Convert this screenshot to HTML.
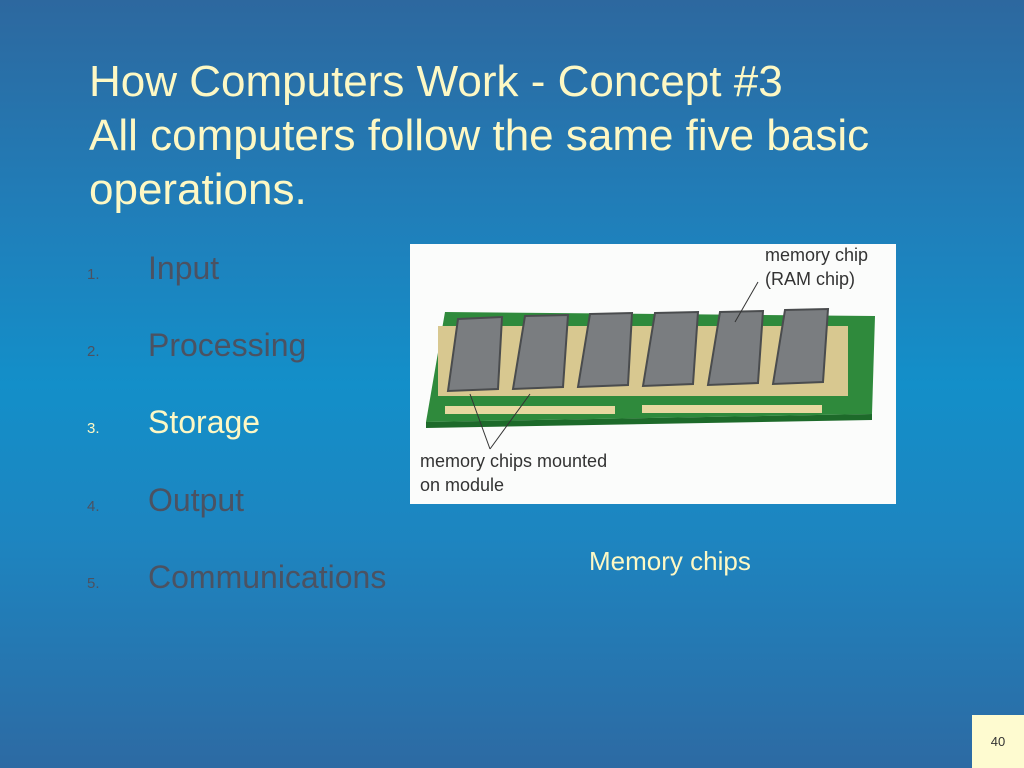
<!DOCTYPE html>
<html><head><style>
body{margin:0;width:1024px;height:768px;overflow:hidden;font-family:"Liberation Sans",Arial,sans-serif;
background:linear-gradient(180deg,#2d689f 0%,#1f80bb 30%,#138fc9 50%,#1d85c0 70%,#2d6aa3 100%);position:relative}
.t{position:absolute;left:89px;top:55px;color:#fdf8c4;font-size:44px;line-height:54px;white-space:nowrap}
.li{position:absolute;left:87px;font-size:32px;color:#4b5262;white-space:nowrap}
.li span{display:inline-block;width:61px;font-size:15px}
.cap{position:absolute;left:589px;top:546px;color:#fdf8c4;font-size:26px}
.pg{position:absolute;left:972px;top:715px;width:52px;height:53px;background:#fefbd0;font-size:13px;text-align:center;line-height:53px;color:#333}
</style></head><body>
<div class="t">How Computers Work - Concept #3<br>All computers follow the same five basic<br>operations.</div>
<div class="li" style="top:250px"><span>1.</span>Input</div>
<div class="li" style="top:327px"><span>2.</span>Processing</div>
<div class="li" style="top:404px;color:#fdf8c4"><span>3.</span>Storage</div>
<div class="li" style="top:482px"><span>4.</span>Output</div>
<div class="li" style="top:559px"><span>5.</span>Communications</div>
<svg style="position:absolute;left:410px;top:244px" width="486" height="260" font-family="Liberation Sans, Arial, sans-serif">
<rect width="486" height="260" fill="#fbfcfb"/>
<polygon points="35,68 465,72 462,170 16,178" fill="#2f8a3c"/>
<polygon points="16,178 462,170 462,176 16,184" fill="#1d6a2a"/>
<g fill="#e8d8a0">
<rect x="35" y="162" width="170" height="8"/><rect x="232" y="161" width="180" height="8"/>
</g>
<rect x="28" y="82" width="410" height="70" fill="#d8c890"/>
<g fill="#7a7d80" stroke="#4a4c4e" stroke-width="2">
<polygon points="48,75 92,73 88,145 38,147"/>
<polygon points="115,72 158,71 153,143 103,145"/>
<polygon points="180,70 222,69 218,141 168,143"/>
<polygon points="245,69 288,68 283,140 233,142"/>
<polygon points="310,68 353,67 348,139 298,141"/>
<polygon points="375,66 418,65 413,138 363,140"/>
</g>
<g stroke="#333" stroke-width="1" fill="none">
<line x1="80" y1="205" x2="60" y2="150"/><line x1="80" y1="205" x2="120" y2="150"/>
<line x1="348" y1="38" x2="325" y2="78"/>
</g>
<g font-size="18" fill="#333">
<text x="355" y="17">memory chip</text><text x="355" y="41">(RAM chip)</text>
<text x="10" y="223">memory chips mounted</text><text x="10" y="247">on module</text>
</g>
</svg>
<div class="cap">Memory chips</div>
<div class="pg">40</div>
</body></html>
